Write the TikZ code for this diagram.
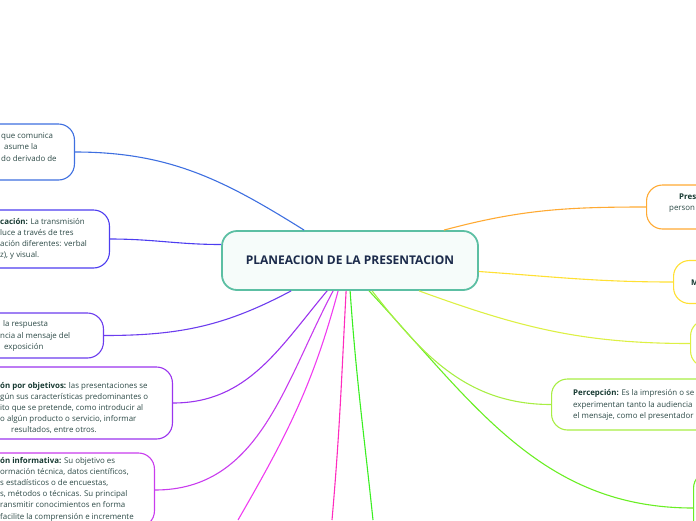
\documentclass[tikz,border=0pt]{standalone}
\usepackage{fontspec}
\setmainfont{Open Sans}
\definecolor{tema}{HTML}{5CBFA3}
\definecolor{temafill}{HTML}{F6FCFA}
\definecolor{titulo}{HTML}{1C2B4B}
\definecolor{texto}{HTML}{2E4B48}
\definecolor{negrita}{HTML}{173A32}
\definecolor{cemisor}{HTML}{3E6FE0}
\definecolor{cclasif}{HTML}{4D3DF0}
\definecolor{cresp}{HTML}{6C3DEE}
\definecolor{cobj}{HTML}{9B34EE}
\definecolor{cinfo}{HTML}{C93CEE}
\definecolor{cmag}{HTML}{F03CF0}
\definecolor{crosa}{HTML}{FF2CBE}
\definecolor{cverde}{HTML}{3BEE22}
\definecolor{cverdeb}{HTML}{6AEE24}
\definecolor{cperc}{HTML}{A8EE44}
\definecolor{clima}{HTML}{DDF044}
\definecolor{camarillo}{HTML}{FFE033}
\definecolor{cnaranja}{HTML}{FFAA33}
\newcommand{\resalta}[1]{\textbf{\color{negrita}#1}}
\begin{document}
\begin{tikzpicture}[x=1pt, y=-1pt,
  every node/.style={font=\fontsize{7.9}{11.2}\selectfont, text=texto},
  rama/.style={draw=#1, fill=white, line width=1.1pt, rounded corners=16pt, minimum width=200},
  frag/.style={anchor=west, align=left, inner sep=0pt},
  con/.style={draw=#1, line width=1.1pt}]
  \useasboundingbox (0,0) rectangle (696,520);
  \clip (0,0) rectangle (696,520);
  % tema central
  \node[draw=tema, fill=temafill, line width=1.8pt, rounded corners=15pt, minimum width=256, minimum height=59,
    text=titulo, font=\fontsize{12}{14}\selectfont\bfseries] (plan) at (350,260.5) {PLANEACION DE LA PRESENTACION};
  % ramas izquierda
  \node[rama=cemisor, minimum height=56, anchor=east] (emisor) at (75,152) {};
  \node[frag] (emisort) at (1,147) {que comunica\\\hspace*{3pt}asume la\\do derivado de};
  \node[rama=cclasif, minimum height=58, anchor=east] (canal) at (110,239) {};
  \node[frag] (canalt) at (0,239) {\resalta{cación:} La transmisión\\luce a través de tres\\ación diferentes: verbal\\z), y visual.};
  \node[rama=cresp, minimum height=45, anchor=east] (resp) at (104,335.5) {};
  \node[frag] (respt) at (0,336) {\hspace*{3pt}la respuesta\\ncia al mensaje del\\\hspace*{4pt}exposición};
  \node[rama=cobj, minimum height=72, anchor=east] (objetivos) at (173,403) {};
  \node[frag] (objetivost) at (0,408) {\resalta{ón por objetivos:} las presentaciones se\\gún sus características predominantes o\\ito que se pretende, como introducir al\\o algún producto o servicio, informar\\\hspace*{11pt}resultados, entre otros.};
  \node[rama=cinfo, minimum height=74, anchor=east] (informativa) at (155,490) {};
  \node[frag] (informativat) at (0,489) {\resalta{ón informativa:} Su objetivo es\\ormación técnica, datos científicos,\\s estadísticos o de encuestas,\\s, métodos o técnicas. Su principal\\ransmitir conocimientos en forma\\facilite la comprensión e incremente};
  % ramas derecha
  \node[rama=cnaranja, minimum height=44, anchor=west] (presentador) at (646,207) {};
  \node[frag] (presentadort) at (669,203) {\hspace*{10pt}\resalta{Pres}\\person};
  \node[rama=camarillo, minimum height=43, anchor=west] (mensaje) at (673,282) {};
  \node[frag] (mensajet) at (691,283) {\resalta{M}};
  \node[rama=clima, minimum height=47, anchor=west] (publico) at (690,343.5) {};
  \node[rama=cperc, minimum height=51, anchor=west] (percepcion) at (551,404.5) {};
  \node[frag] (percepciont) at (573,405) {\resalta{Percepción:} Es la impresión o se\\experimentan tanto la audiencia\\el mensaje, como el presentador};
  \node[rama=cverdeb, minimum height=72, anchor=west] (entorno) at (693,508) {};
  \coordinate (sigue1) at (238,520);
  \coordinate (sigue2) at (332,520);
  \coordinate (sigue3) at (373,520);
  % conectores
  \draw[con=cemisor] ([xshift=83]plan.north west) to[out=148, in=0] (emisor.east);
  \draw[con=cclasif] ([yshift=16]plan.west) to[out=180, in=0] (canal.east);
  \draw[con=cresp] ([xshift=70]plan.south west) to[out=-152, in=0] (resp.east);
  \draw[con=cobj] ([xshift=106]plan.south west) to[out=-130, in=0] (objetivos.east);
  \draw[con=cinfo] ([xshift=112]plan.south west) to[out=-118, in=0] (informativa.east);
  \draw[con=cmag] ([xshift=117]plan.south west) to[out=-105, in=60] (sigue1);
  \draw[con=crosa] ([xshift=125]plan.south west) to[out=-93, in=85] (sigue2);
  \draw[con=cverde] ([xshift=129]plan.south west) to[out=-86, in=96] (sigue3);
  \draw[con=cverdeb] ([xshift=148]plan.south west) to[out=-47, in=180] (entorno.west);
  \draw[con=cperc] ([xshift=151]plan.south west) to[out=-52, in=180] (percepcion.west);
  \draw[con=clima] ([xshift=198]plan.south west) to[out=-20, in=180] (publico.west);
  \draw[con=camarillo] ([yshift=-11]plan.east) to[out=-4, in=180] (mensaje.west);
  \draw[con=cnaranja] ([xshift=-35]plan.north east) to[out=15, in=180] (presentador.west);
\end{tikzpicture}
\end{document}
